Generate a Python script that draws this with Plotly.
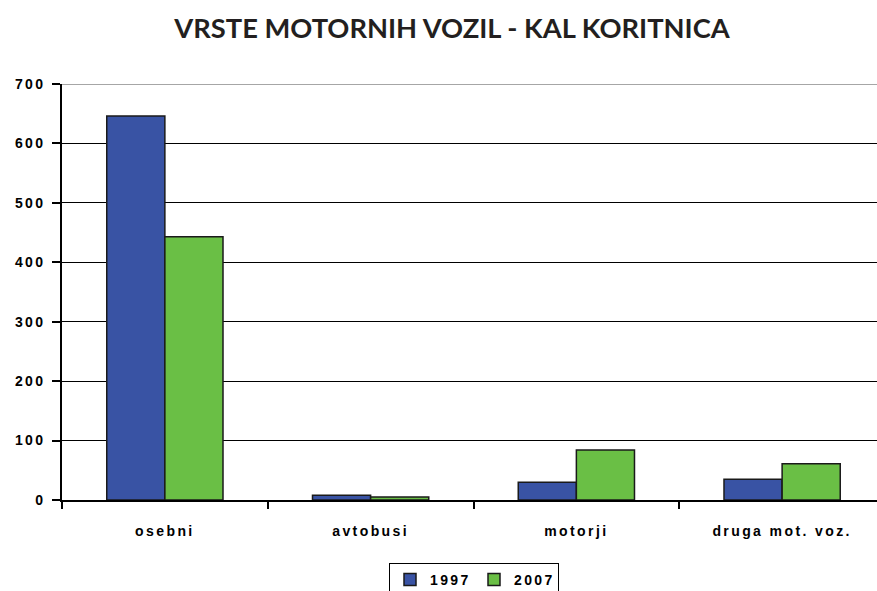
import plotly.graph_objects as go

categories = ["osebni", "avtobusi", "motorji", "druga mot. voz."]
series_1997 = [646, 8, 30, 35]
series_2007 = [443, 5, 84, 61]
y_ticks = [0, 100, 200, 300, 400, 500, 600, 700]

fig = go.Figure()
fig.add_bar(name="1997", x=categories, y=series_1997,
            marker=dict(color="#3953A4", line=dict(color="#1a1a1a", width=1.5)))
fig.add_bar(name="2007", x=categories, y=series_2007,
            marker=dict(color="#6ABF45", line=dict(color="#1a1a1a", width=1.5)))

W, H = 877, 591
L, R, T, B = 62, 0, 84, 91

fig.update_layout(
    width=W, height=H,
    margin=dict(l=L, r=R, t=T, b=B, pad=0, autoexpand=False),
    paper_bgcolor="white", plot_bgcolor="white",
    barmode="group", bargap=0.435, bargroupgap=0,
    title=dict(text="VRSTE MOTORNIH VOZIL - KAL KORITNICA",
               x=452 / W, xanchor="center", y=1 - 28 / H, yanchor="middle",
               font=dict(family="Lato, Liberation Sans", size=27.3,
                         color="#231f20", weight="bold")),
    showlegend=True,
    legend=dict(orientation="h", x=(474 - L) / (W - L), xanchor="center",
                y=(500 - 563) / (500 - T), yanchor="top",
                bordercolor="black", borderwidth=1, bgcolor="white",
                font=dict(family="Liberation Sans", size=14, color="black", weight="bold"),
                itemwidth=30, tracegroupgap=0, entrywidth=39, entrywidthmode="pixels"),
    font=dict(family="Liberation Sans", color="black"),
    shapes=[dict(type="line", xref="paper", x0=0, x1=1, yref="y",
                 y0=y_ticks[-1], y1=y_ticks[-1], line=dict(color="#888888", width=1.5))],
)

fig.update_xaxes(
    range=[-0.5, 3 + (877 - 782) / 206], automargin=False,
    showline=True, linecolor="black", linewidth=1.5,
    ticks="outside", tickson="boundaries", ticklen=7, tickcolor="black", tickwidth=1.5,
    tickfont=dict(family="Liberation Sans", size=14, color="black", weight="bold"),
    ticklabelstandoff=17, showgrid=False,
)
fig.update_yaxes(
    range=[0, 700], tickvals=y_ticks, automargin=False,
    showline=True, linecolor="black", linewidth=1.5,
    ticks="outside", ticklen=8, tickcolor="black", tickwidth=1.5,
    tickfont=dict(family="Liberation Sans", size=14, color="black", weight="bold"),
    ticklabelstandoff=4,
    showgrid=True, gridcolor="black", gridwidth=1, zeroline=False,
)

post = """
var s=document.createElement('style');
s.textContent='html, body {margin:0; padding:0; overflow:hidden;} .xtick text, .ytick text, .legendtext {letter-spacing: 2.4px;}';
document.head.appendChild(s);
var gd=document.getElementById('{plot_id}');
Plotly.newPlot(gd, gd.data, gd.layout, {displayModeBar: false, responsive: false});
"""

fig.write_html("out.html", post_script=post, config={"displayModeBar": False})
